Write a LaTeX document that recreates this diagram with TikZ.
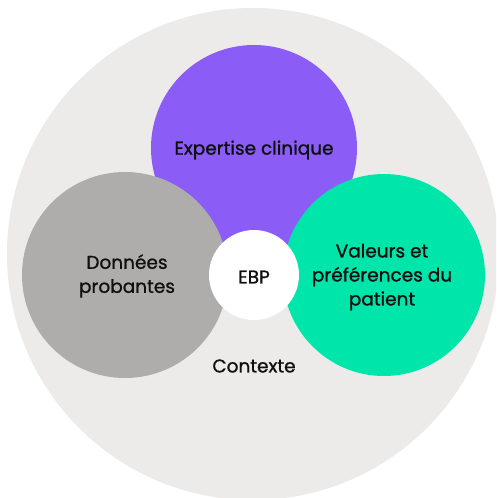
\documentclass[tikz,border=0pt]{standalone}
\usepackage{fontspec}
\setmainfont{Poppins}[FakeBold=1]
\definecolor{bgc}{RGB}{236,235,233}
\definecolor{purp}{RGB}{139,92,246}
\definecolor{grayc}{RGB}{174,173,172}
\definecolor{greenc}{RGB}{0,229,170}
\definecolor{txt}{RGB}{15,15,15}
\begin{document}
\begin{tikzpicture}[x=1pt,y=-1pt,
  disc/.style={circle,inner sep=0pt,minimum size=#1},
  lbl/.style={text=txt,font=\fontsize{18.5}{24}\selectfont,align=center}]
\useasboundingbox (0,0) rectangle (496,498);
\clip (0,0) rectangle (496,498);
\fill[white] (0,0) rectangle (496,498);
\node[disc=492pt,fill=bgc] (ctx) at (253,254) {};
\node[disc=206pt,fill=purp] (exp) at (254,148) {};
\node[disc=206pt,fill=grayc] (don) at (125,275) {};
\node[disc=202pt,fill=greenc] (val) at (384,275) {};
\node[disc=90pt,fill=white] (ebp) at (254,275) {};
\node[lbl] at ([yshift=-2pt]exp.center) {Expertise clinique};
\node[lbl] at ([xshift=2pt,yshift=-1pt]don.center) {Données\\probantes};
\node[lbl] at ([xshift=-2pt,yshift=-2pt]val.center) {Valeurs et\\préférences du\\patient};
\node[lbl] at ([yshift=-2pt]ebp.center) {EBP};
\node[lbl] (ctxl) at (254,366) {Contexte};
\end{tikzpicture}
\end{document}
